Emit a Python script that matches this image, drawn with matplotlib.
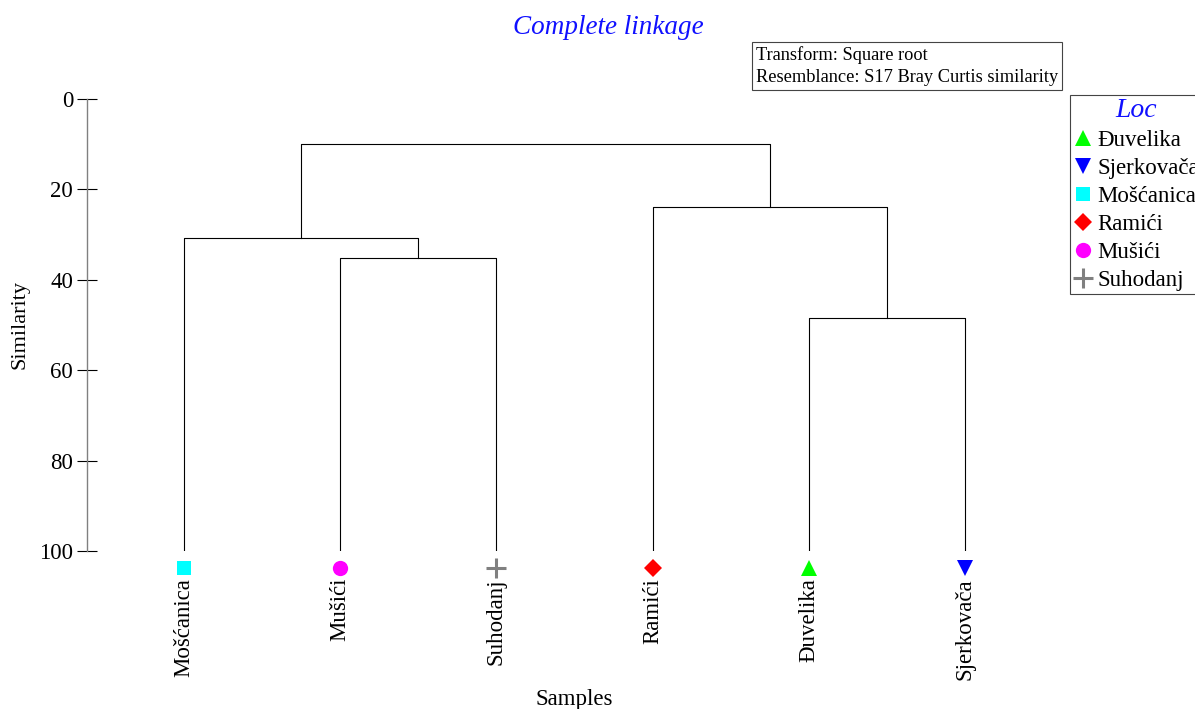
import numpy as np
import matplotlib.pyplot as plt
from matplotlib.lines import Line2D

plt.rcParams['font.family'] = ['Liberation Serif', 'DejaVu Serif']

# leaves, in dendrogram order
samples = ["Mošćanica", "Mušići", "Suhodanj", "Ramići", "Đuvelika", "Sjerkovača"]
marker_of = ["s", "o", "+", "D", "^", "v"]
color_of = ["#00ffff", "#ff00ff", "#808080", "#ff0000", "#00ff00", "#0000ff"]
size_of = [10, 11, 14, 9, 12, 12]

# merges (linkage style): child a, child b, similarity (%)
merge_a = [1, 4, 0, 3, 8]
merge_b = [2, 5, 6, 7, 9]
merge_sim = [35.2, 48.5, 30.8, 23.9, 10.0]

# legend order for the "Loc" factor
legend_order = ["Đuvelika", "Sjerkovača", "Mošćanica", "Ramići", "Mušići", "Suhodanj"]

fig = plt.figure(figsize=(11.95, 7.09), dpi=100)
ax = fig.add_axes([87 / 1195, 158 / 709, 913 / 1195, 452 / 709])

# node positions: leaves first, then each merge
node_x = list(range(len(samples)))
node_y = [100.0] * len(samples)
for a, b, s in zip(merge_a, merge_b, merge_sim):
    ax.plot([node_x[a], node_x[a], node_x[b], node_x[b]],
            [node_y[a], s, s, node_y[b]], color="black", lw=0.8)
    node_x.append((node_x[a] + node_x[b]) / 2)
    node_y.append(s)


def symbol_style(i):
    plus = marker_of[i] == "+"
    return dict(marker=marker_of[i], color=color_of[i], ms=size_of[i],
                mew=2.2 if plus else 0, ls="none")


# leaf symbols and names under the tree
for i, name in enumerate(samples):
    ax.plot(i, 103.8, clip_on=False, **symbol_style(i))
    ax.text(i, 106.0, name, rotation=90, ha="center", va="top", fontsize=16.5)

ax.set_xlim(-0.621, 5.224)
ax.set_ylim(100, 0)
ax.set_yticks([0, 20, 40, 60, 80, 100])
ax.tick_params(axis="y", direction="inout", length=14, width=0.8, labelsize=16.5, pad=3)
ax.set_xticks([])
for side in ["top", "right", "bottom"]:
    ax.spines[side].set_visible(False)
ax.spines["left"].set_color("#808080")
ax.spines["left"].set_linewidth(1.0)

fig.text(20 / 1195, 1 - 325 / 709, "Similarity", rotation=90, ha="center", va="center", fontsize=16)
ax.text(2.5, 1 - (699 - 99) / 452, "Samples", transform=ax.get_xaxis_transform(),
        fontsize=16.5, ha="center", va="center")

fig.text(608 / 1195, 1 - 27 / 709, "Complete linkage", ha="center", va="center",
         fontsize=19.5, style="italic", color="#1010ff")

fig.text(756 / 1195, 1 - 46 / 709, "Transform: Square root\nResemblance: S17 Bray Curtis similarity",
         ha="left", va="top", fontsize=13.2, linespacing=1.4,
         bbox=dict(boxstyle="square,pad=0.2", fc="white", ec="#444444", lw=0.8))

handles = []
for name in legend_order:
    handles.append(Line2D([], [], label=name, **symbol_style(samples.index(name))))
leg = fig.legend(handles=handles, loc="upper left", bbox_to_anchor=(1070 / 1195, 1 - 95 / 709),
                 title="Loc", fontsize=16.5, title_fontsize=20, fancybox=False, framealpha=1,
                 edgecolor="#444444", handlelength=0.8, handletextpad=0.25, labelspacing=0.3,
                 borderpad=0.15, borderaxespad=0)
leg.get_title().set_color("#1010ff")
leg.get_title().set_style("italic")
leg.get_frame().set_linewidth(0.8)

fig.savefig("out.png", dpi=100)
